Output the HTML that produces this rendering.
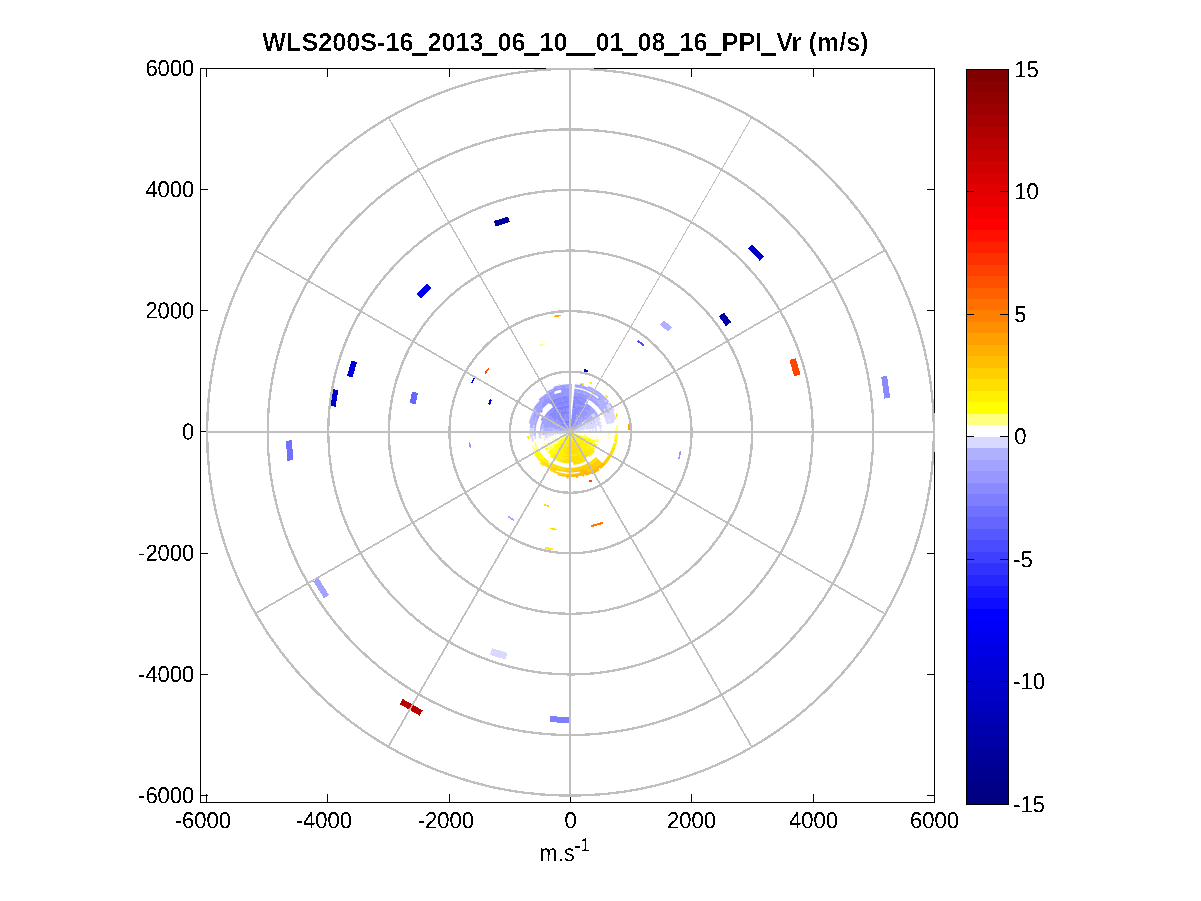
<!DOCTYPE html>
<html><head><meta charset="utf-8"><title>WLS200S PPI Vr</title>
<style>html,body{margin:0;padding:0;background:#fff;overflow:hidden}svg{display:block}</style>
</head><body>
<svg width="1201" height="901" viewBox="0 0 1201 901">
<defs><filter id="al" filterUnits="userSpaceOnUse" x="0" y="0" width="1201" height="901"><feComponentTransfer><feFuncA type="discrete" tableValues="0 0 1 1"/></feComponentTransfer></filter><filter id="al2" filterUnits="userSpaceOnUse" x="0" y="0" width="1201" height="901"><feComponentTransfer><feFuncA type="discrete" tableValues="0 0 0 0 0 0 0 1 1 1"/></feComponentTransfer></filter></defs>
<rect width="1201" height="901" fill="#fff"/>
<g stroke="#000" stroke-width="1" fill="none" shape-rendering="crispEdges">
<rect x="200.5" y="68.5" width="734.0" height="734.0"/>
<path d="M206.5 802.5v-8.5M206.5 68.5v8.5M327.5 802.5v-8.5M327.5 68.5v8.5M449.5 802.5v-8.5M449.5 68.5v8.5M570.5 802.5v-8.5M570.5 68.5v8.5M691.5 802.5v-8.5M691.5 68.5v8.5M813.5 802.5v-8.5M813.5 68.5v8.5M934.5 802.5v-8.5M934.5 68.5v8.5M200.5 795.5h7.5M934.5 795.5h-7.5M200.5 674.5h7.5M934.5 674.5h-7.5M200.5 553.5h7.5M934.5 553.5h-7.5M200.5 431.5h7.5M934.5 431.5h-7.5M200.5 310.5h7.5M934.5 310.5h-7.5M200.5 189.5h7.5M934.5 189.5h-7.5M200.5 68.5h7.5M934.5 68.5h-7.5"/>
</g>
<g fill="none" stroke-width="1.75">
<path stroke="#a3a3ff" d="M570.0 431.3A0.75 0.75 0 0 1 570.4 431.4M569.4 431.6A0.75 0.75 0 0 1 569.4 431.6M569.4 431.5A0.75 0.75 0 0 1 570.0 431.3M570.2 429.8A2.25 2.25 0 0 1 570.3 429.8M570.5 429.8A2.25 2.25 0 0 1 570.6 429.8M570.9 429.9A2.25 2.25 0 0 1 571.6 430.4M571.7 430.5A2.25 2.25 0 0 1 571.7 430.6M567.9 431.2A2.25 2.25 0 0 1 568.0 431.0M568.0 430.9A2.25 2.25 0 0 1 568.6 430.3M568.7 430.2A2.25 2.25 0 0 1 568.7 430.1M570.5 428.3A3.75 3.75 0 0 1 570.9 428.4M571.1 428.4A3.75 3.75 0 0 1 572.3 429.1M566.5 430.6A3.75 3.75 0 0 1 566.7 430.2M566.7 430.1A3.75 3.75 0 0 1 567.5 429.2M567.6 429.1A3.75 3.75 0 0 1 567.7 429.0M567.8 429.0A3.75 3.75 0 0 1 568.1 428.7M573.1 427.7A5.25 5.25 0 0 1 573.2 427.9M573.4 428.0A5.25 5.25 0 0 1 574.1 428.8M564.9 430.6A5.25 5.25 0 0 1 565.4 429.5M565.5 429.2A5.25 5.25 0 0 1 565.7 429.1M574.8 427.3A6.75 6.75 0 0 1 575.3 427.9M563.3 430.8A6.75 6.75 0 0 1 563.7 429.5M563.8 429.3A6.75 6.75 0 0 1 563.9 429.0M575.7 426.1A8.25 8.25 0 0 1 576.5 426.9M561.9 430.3A8.25 8.25 0 0 1 562.4 428.9M562.5 428.7A8.25 8.25 0 0 1 562.6 428.4M576.8 425.0A9.75 9.75 0 0 1 577.0 425.2M577.2 425.5A9.75 9.75 0 0 1 577.7 426.0M560.3 431.0A9.75 9.75 0 0 1 560.3 430.6M560.4 430.3A9.75 9.75 0 0 1 561.0 428.3M578.1 424.2A11.25 11.25 0 0 1 578.9 425.1M558.9 430.5A11.25 11.25 0 0 1 558.9 430.0M559.0 429.7A11.25 11.25 0 0 1 559.4 428.1M577.8 421.9A12.75 12.75 0 0 1 578.2 422.3M578.5 422.5A12.75 12.75 0 0 1 580.1 424.2M557.5 429.4A12.75 12.75 0 0 1 558.6 426.4M579.9 421.7A14.25 14.25 0 0 1 581.3 423.3M556.0 429.6A14.25 14.25 0 0 1 557.0 426.2M579.7 419.6A15.75 15.75 0 0 1 580.2 420.0M580.5 420.3A15.75 15.75 0 0 1 582.4 422.3M554.6 428.8A15.75 15.75 0 0 1 556.1 424.6M581.5 419.2A17.25 17.25 0 0 1 583.6 421.4M552.9 429.6A17.25 17.25 0 0 1 553.0 429.0M553.1 428.5A17.25 17.25 0 0 1 554.8 423.9M581.5 417.2A18.75 18.75 0 0 1 584.8 420.5M551.8 427.5A18.75 18.75 0 0 1 553.5 423.2M584.5 417.9A20.25 20.25 0 0 1 586.0 419.6M549.9 429.9A20.25 20.25 0 0 1 550.0 429.1M550.0 428.5A20.25 20.25 0 0 1 551.0 425.0M585.1 416.3A21.75 21.75 0 0 1 587.2 418.7M548.5 429.0A21.75 21.75 0 0 1 548.6 428.2M548.7 427.5A21.75 21.75 0 0 1 550.8 421.7M586.7 415.8A23.25 23.25 0 0 1 588.4 417.7M547.0 428.8A23.25 23.25 0 0 1 548.2 424.0M548.4 423.3A23.25 23.25 0 0 1 548.8 422.5M587.1 414.2A24.75 24.75 0 0 1 587.8 414.9M588.3 415.4A24.75 24.75 0 0 1 589.5 416.8M545.5 428.6A24.75 24.75 0 0 1 546.8 423.5M588.8 413.7A26.25 26.25 0 0 1 590.7 415.9M544.0 428.4A26.25 26.25 0 0 1 546.0 421.3M586.3 409.5A27.75 27.75 0 0 1 591.3 414.2M543.3 424.4A27.75 27.75 0 0 1 547.6 415.6M590.3 410.9A29.25 29.25 0 0 1 593.1 414.1M541.4 426.0A29.25 29.25 0 0 1 544.7 417.3M591.3 409.8A30.75 30.75 0 0 1 592.2 410.7M592.8 411.4A30.75 30.75 0 0 1 594.3 413.1M590.7 407.2A32.25 32.25 0 0 1 595.5 412.2M534.9 428.4A35.25 35.25 0 0 1 537.4 418.7M586.0 398.9A36.75 36.75 0 0 1 587.3 399.6M536.4 417.1A36.75 36.75 0 0 1 537.0 415.8M537.5 414.8A36.75 36.75 0 0 1 542.8 407.3M586.7 397.6A38.25 38.25 0 0 1 589.2 398.9M590.2 399.5A38.25 38.25 0 0 1 598.5 406.5M533.2 421.6A38.25 38.25 0 0 1 539.9 408.4M540.6 407.5A38.25 38.25 0 0 1 541.6 406.3M588.6 396.9A39.75 39.75 0 0 1 600.5 406.5M532.6 418.5A39.75 39.75 0 0 1 537.9 408.6M538.6 407.6A39.75 39.75 0 0 1 539.6 406.4M540.4 405.5A39.75 39.75 0 0 1 541.5 404.3M569.9 390.8A41.25 41.25 0 0 1 571.5 390.8M577.1 391.4A41.25 41.25 0 0 1 593.2 397.9M594.2 398.6A41.25 41.25 0 0 1 595.5 399.6M596.4 400.3A41.25 41.25 0 0 1 597.7 401.4M533.5 412.7A41.25 41.25 0 0 1 534.3 411.3M535.7 409.0A41.25 41.25 0 0 1 543.6 400.3M545.7 398.7A41.25 41.25 0 0 1 549.5 396.2M551.8 395.0A41.25 41.25 0 0 1 553.3 394.3M575.8 389.7A42.75 42.75 0 0 1 577.5 389.9M583.1 391.3A42.75 42.75 0 0 1 584.7 391.9M585.9 392.3A42.75 42.75 0 0 1 598.7 400.3M599.6 401.2A42.75 42.75 0 0 1 600.8 402.4M533.7 409.4A42.75 42.75 0 0 1 540.4 401.2M541.3 400.3A42.75 42.75 0 0 1 543.8 398.2M546.0 396.6A42.75 42.75 0 0 1 547.4 395.7M598.4 398.0A44.25 44.25 0 0 1 600.8 400.2M539.2 400.2A44.25 44.25 0 0 1 541.6 398.0M542.7 397.2A44.25 44.25 0 0 1 545.4 395.3M569.9 386.3A45.75 45.75 0 0 1 571.7 386.3M574.7 386.5A45.75 45.75 0 0 1 597.0 395.1M598.1 395.9A45.75 45.75 0 0 1 600.7 398.1M547.0 392.4A45.75 45.75 0 0 1 553.0 389.5M557.3 388.1A45.75 45.75 0 0 1 562.2 386.9M565.1 386.5A45.75 45.75 0 0 1 570.1 386.3M569.9 384.8A47.25 47.25 0 0 1 571.8 384.8M574.8 385.0A47.25 47.25 0 0 1 581.6 386.2M582.9 386.5A47.25 47.25 0 0 1 587.8 388.2M553.7 387.6A47.25 47.25 0 0 1 570.1 384.8M580.0 384.3A48.75 48.75 0 0 1 583.6 385.2M588.1 386.8A48.75 48.75 0 0 1 601.4 394.7"/>
<path stroke="#b0b0ff" d="M570.4 431.4A0.75 0.75 0 0 1 570.6 431.5M569.3 431.9A0.75 0.75 0 0 1 569.4 431.6M569.4 431.6A0.75 0.75 0 0 1 569.4 431.5M571.6 430.4A2.25 2.25 0 0 1 571.7 430.5M571.7 430.5A2.25 2.25 0 0 1 571.8 430.6M571.8 430.7A2.25 2.25 0 0 1 571.9 430.7M567.8 432.0A2.25 2.25 0 0 1 567.8 431.8M567.8 431.8A2.25 2.25 0 0 1 567.9 431.2M568.0 431.0A2.25 2.25 0 0 1 568.0 430.9M572.3 429.0A3.75 3.75 0 0 1 573.0 429.7M566.3 431.7A3.75 3.75 0 0 1 566.5 430.6M566.7 430.2A3.75 3.75 0 0 1 566.8 430.1M574.1 428.8A5.25 5.25 0 0 1 574.6 429.4M574.6 429.5A5.25 5.25 0 0 1 574.7 429.7M564.8 432.0A5.25 5.25 0 0 1 565.0 430.5M575.3 427.8A6.75 6.75 0 0 1 576.0 428.8M563.3 432.5A6.75 6.75 0 0 1 563.3 432.2M563.3 432.0A6.75 6.75 0 0 1 563.4 430.8M576.5 426.9A8.25 8.25 0 0 1 577.3 428.1M577.4 428.4A8.25 8.25 0 0 1 577.5 428.7M561.8 432.3A8.25 8.25 0 0 1 561.9 430.3M577.7 426.0A9.75 9.75 0 0 1 578.9 428.1M560.3 432.4A9.75 9.75 0 0 1 560.3 431.0M560.3 430.7A9.75 9.75 0 0 1 560.4 430.3M578.8 425.1A11.25 11.25 0 0 1 579.8 426.4M579.9 426.7A11.25 11.25 0 0 1 580.3 427.5M558.8 432.8A11.25 11.25 0 0 1 558.9 430.4M558.9 430.1A11.25 11.25 0 0 1 559.0 429.6M580.0 424.1A12.75 12.75 0 0 1 581.1 425.7M557.3 432.5A12.75 12.75 0 0 1 557.5 429.3M581.2 423.2A14.25 14.25 0 0 1 582.6 425.3M555.8 433.0A14.25 14.25 0 0 1 556.0 429.5M554.3 431.5A15.75 15.75 0 0 1 554.3 430.9M554.3 430.4A15.75 15.75 0 0 1 554.6 428.7M583.6 421.3A17.25 17.25 0 0 1 584.7 422.9M584.9 423.3A17.25 17.25 0 0 1 585.5 424.5M552.8 433.2A17.25 17.25 0 0 1 552.8 432.0M552.8 431.4A17.25 17.25 0 0 1 552.9 429.6M553.0 429.0A17.25 17.25 0 0 1 553.1 428.4M585.1 420.9A18.75 18.75 0 0 1 586.3 422.7M551.3 432.0A18.75 18.75 0 0 1 551.8 427.4M585.9 419.5A20.25 20.25 0 0 1 588.5 423.8M549.8 433.5A20.25 20.25 0 0 1 549.9 429.8M549.9 429.2A20.25 20.25 0 0 1 550.1 428.4M587.1 418.6A21.75 21.75 0 0 1 588.5 420.5M588.8 421.1A21.75 21.75 0 0 1 589.2 421.8M548.3 433.6A21.75 21.75 0 0 1 548.3 432.7M548.3 432.1A21.75 21.75 0 0 1 548.5 428.9M548.6 428.3A21.75 21.75 0 0 1 548.7 427.4M588.3 417.6A23.25 23.25 0 0 1 590.9 421.9M591.2 422.5A23.25 23.25 0 0 1 591.9 424.1M546.8 433.7A23.25 23.25 0 0 1 547.0 428.7M589.5 416.7A24.75 24.75 0 0 1 591.9 420.4M545.3 433.8A24.75 24.75 0 0 1 545.3 432.8M545.3 432.1A24.75 24.75 0 0 1 545.5 428.5M590.6 415.8A26.25 26.25 0 0 1 594.0 421.4M594.3 422.1A26.25 26.25 0 0 1 594.7 423.1M543.9 434.8A26.25 26.25 0 0 1 544.0 428.3M591.2 414.1A27.75 27.75 0 0 1 591.9 415.0M592.4 415.6A27.75 27.75 0 0 1 593.0 416.5M542.4 429.2A27.75 27.75 0 0 1 543.3 424.3M540.8 433.1A29.25 29.25 0 0 1 540.8 431.9M540.8 431.1A29.25 29.25 0 0 1 541.4 425.8M594.2 413.0A30.75 30.75 0 0 1 597.2 417.6M539.3 434.2A30.75 30.75 0 0 1 539.3 433.0M595.4 412.1A32.25 32.25 0 0 1 598.5 416.9M535.0 435.8A35.25 35.25 0 0 1 535.0 428.2M533.4 428.3A36.75 36.75 0 0 1 533.6 426.8M533.8 425.7A36.75 36.75 0 0 1 536.5 417.0M536.9 416.0A36.75 36.75 0 0 1 537.6 414.7M598.4 406.3A38.25 38.25 0 0 1 603.8 414.1M531.8 430.8A38.25 38.25 0 0 1 531.9 429.2M531.9 428.1A38.25 38.25 0 0 1 533.3 421.4M600.4 406.4A39.75 39.75 0 0 1 605.1 413.4M605.7 414.5A39.75 39.75 0 0 1 606.4 415.9M530.5 427.9A39.75 39.75 0 0 1 532.7 418.3M593.0 397.7A41.25 41.25 0 0 1 594.3 398.7M595.3 399.4A41.25 41.25 0 0 1 596.6 400.5M597.5 401.3A41.25 41.25 0 0 1 604.3 409.0M605.7 411.3A41.25 41.25 0 0 1 606.5 412.7M529.6 423.5A41.25 41.25 0 0 1 533.6 412.5M534.2 411.5A41.25 41.25 0 0 1 535.9 408.8M598.5 400.2A42.75 42.75 0 0 1 599.8 401.3M600.7 402.2A42.75 42.75 0 0 1 608.5 413.4M600.7 400.1A44.25 44.25 0 0 1 607.6 408.6M609.0 411.1A44.25 44.25 0 0 1 609.8 412.7M596.8 394.9A45.75 45.75 0 0 1 598.3 396.0M600.5 397.9A45.75 45.75 0 0 1 607.1 405.2M581.3 386.1A47.25 47.25 0 0 1 583.1 386.6M587.6 388.1A47.25 47.25 0 0 1 605.2 400.5M606.1 401.5A47.25 47.25 0 0 1 608.3 404.3M601.2 394.6A48.75 48.75 0 0 1 608.5 402.1M609.4 403.2A48.75 48.75 0 0 1 612.3 407.7"/>
<path stroke="#d9d9ff" d="M570.6 431.5A0.75 0.75 0 0 1 570.7 431.9M570.7 432.0A0.75 0.75 0 0 1 570.7 432.1M569.3 432.2A0.75 0.75 0 0 1 569.3 432.2M569.3 432.2A0.75 0.75 0 0 1 569.3 431.9M571.8 430.6A2.25 2.25 0 0 1 571.8 430.7M571.9 430.7A2.25 2.25 0 0 1 572.2 431.8M572.2 431.8A2.25 2.25 0 0 1 572.2 432.1M567.9 432.7A2.25 2.25 0 0 1 567.8 432.0M567.8 431.8A2.25 2.25 0 0 1 567.8 431.8M572.9 429.7A3.75 3.75 0 0 1 573.5 430.7M573.6 431.1A3.75 3.75 0 0 1 573.7 431.5M566.3 432.8A3.75 3.75 0 0 1 566.3 431.7M574.5 429.4A5.25 5.25 0 0 1 574.6 429.5M574.7 429.7A5.25 5.25 0 0 1 575.2 431.1M575.2 431.3A5.25 5.25 0 0 1 575.2 431.5M565.0 433.6A5.25 5.25 0 0 1 564.9 433.4M564.9 433.3A5.25 5.25 0 0 1 564.8 432.0M576.0 428.8A6.75 6.75 0 0 1 576.7 431.5M576.7 432.0A6.75 6.75 0 0 1 576.7 432.3M563.5 433.9A6.75 6.75 0 0 1 563.4 433.6M563.4 433.4A6.75 6.75 0 0 1 563.3 432.5M563.3 432.3A6.75 6.75 0 0 1 563.3 432.0M577.3 428.1A8.25 8.25 0 0 1 577.4 428.4M577.5 428.6A8.25 8.25 0 0 1 578.2 431.2M578.2 431.7A8.25 8.25 0 0 1 578.2 432.0M562.0 434.0A8.25 8.25 0 0 1 561.9 433.7M561.8 433.2A8.25 8.25 0 0 1 561.8 432.3M578.9 428.0A9.75 9.75 0 0 1 579.7 431.7M560.6 434.7A9.75 9.75 0 0 1 560.3 432.3M579.7 426.3A11.25 11.25 0 0 1 579.9 426.7M580.3 427.4A11.25 11.25 0 0 1 581.1 430.5M559.2 435.1A11.25 11.25 0 0 1 559.1 434.7M558.9 433.6A11.25 11.25 0 0 1 558.8 432.8M581.0 425.6A12.75 12.75 0 0 1 582.6 429.8M582.6 430.2A12.75 12.75 0 0 1 582.7 430.7M557.4 433.8A12.75 12.75 0 0 1 557.3 432.4M582.6 425.3A14.25 14.25 0 0 1 584.1 430.1M584.2 431.0A14.25 14.25 0 0 1 584.2 431.5M556.0 434.5A14.25 14.25 0 0 1 555.8 433.0M582.4 422.3A15.75 15.75 0 0 1 585.2 427.7M585.3 428.1A15.75 15.75 0 0 1 585.4 428.8M554.4 434.2A15.75 15.75 0 0 1 554.3 431.4M554.3 430.9A15.75 15.75 0 0 1 554.3 430.3M584.6 422.8A17.25 17.25 0 0 1 585.0 423.4M585.5 424.4A17.25 17.25 0 0 1 587.1 429.6M587.2 430.2A17.25 17.25 0 0 1 587.2 430.8M553.1 435.6A17.25 17.25 0 0 1 552.8 433.2M552.8 432.0A17.25 17.25 0 0 1 552.8 431.4M584.7 420.4A18.75 18.75 0 0 1 585.2 421.0M586.2 422.6A18.75 18.75 0 0 1 588.5 428.8M551.7 435.9A18.75 18.75 0 0 1 551.5 435.2M551.4 434.7A18.75 18.75 0 0 1 551.3 432.0M588.5 423.7A20.25 20.25 0 0 1 590.1 429.2M590.1 429.8A20.25 20.25 0 0 1 590.2 431.3M550.5 437.6A20.25 20.25 0 0 1 550.3 436.8M550.1 435.6A20.25 20.25 0 0 1 549.8 433.4M588.4 420.4A21.75 21.75 0 0 1 588.9 421.2M589.2 421.7A21.75 21.75 0 0 1 591.5 429.0M548.7 436.6A21.75 21.75 0 0 1 548.3 433.5M548.3 432.8A21.75 21.75 0 0 1 548.3 431.9M590.9 421.8A23.25 23.25 0 0 1 591.3 422.6M591.8 424.0A23.25 23.25 0 0 1 593.1 429.6M593.2 430.3A23.25 23.25 0 0 1 593.2 431.2M593.2 431.9A23.25 23.25 0 0 1 593.2 432.9M547.7 438.5A23.25 23.25 0 0 1 547.4 437.6M547.3 436.9A23.25 23.25 0 0 1 546.8 433.6M591.8 420.3A24.75 24.75 0 0 1 594.4 427.8M546.0 438.1A24.75 24.75 0 0 1 545.3 433.7M545.3 432.9A24.75 24.75 0 0 1 545.3 431.9M594.0 421.3A26.25 26.25 0 0 1 594.4 422.2M594.6 423.0A26.25 26.25 0 0 1 596.2 431.2M545.1 440.2A26.25 26.25 0 0 1 544.7 439.2M544.5 438.4A26.25 26.25 0 0 1 544.3 437.4M544.0 435.7A26.25 26.25 0 0 1 543.9 434.7M591.8 414.9A27.75 27.75 0 0 1 592.5 415.7M593.0 416.4A27.75 27.75 0 0 1 596.1 422.6M596.4 423.4A27.75 27.75 0 0 1 596.9 425.4M542.4 435.0A27.75 27.75 0 0 1 542.4 429.0M593.0 413.9A29.25 29.25 0 0 1 598.6 426.0M541.4 438.2A29.25 29.25 0 0 1 541.2 437.0M541.0 436.1A29.25 29.25 0 0 1 540.8 432.9M540.8 432.1A29.25 29.25 0 0 1 540.8 430.9M597.1 417.5A30.75 30.75 0 0 1 600.6 428.9M600.7 429.8A30.75 30.75 0 0 1 600.7 432.1M539.9 438.5A30.75 30.75 0 0 1 539.3 434.1M598.4 416.8A32.25 32.25 0 0 1 599.9 420.0M600.6 422.0A32.25 32.25 0 0 1 601.0 423.2M601.5 425.2A32.25 32.25 0 0 1 601.8 426.5M535.5 439.4A35.25 35.25 0 0 1 534.9 435.6M533.5 435.9A36.75 36.75 0 0 1 533.5 428.1M533.6 427.0A36.75 36.75 0 0 1 533.8 425.5M603.7 414.0A38.25 38.25 0 0 1 607.4 424.1M532.9 441.4A38.25 38.25 0 0 1 531.8 430.6M531.8 429.4A38.25 38.25 0 0 1 532.0 427.9M605.0 413.2A39.75 39.75 0 0 1 605.8 414.7M606.3 415.7A39.75 39.75 0 0 1 608.9 423.8M530.7 437.6A39.75 39.75 0 0 1 530.5 427.7M604.1 408.8A41.25 41.25 0 0 1 605.8 411.5M606.4 412.5A41.25 41.25 0 0 1 609.3 419.4M609.6 420.5A41.25 41.25 0 0 1 610.4 423.5M608.4 413.2A42.75 42.75 0 0 1 611.8 423.2M607.5 408.5A44.25 44.25 0 0 1 609.1 411.3M609.7 412.5A44.25 44.25 0 0 1 613.3 422.9M606.9 405.0A45.75 45.75 0 0 1 614.4 421.0M605.0 400.3A47.25 47.25 0 0 1 606.3 401.7M608.2 404.1A47.25 47.25 0 0 1 615.5 419.1M612.2 407.5A48.75 48.75 0 0 1 613.9 410.7"/>
<path stroke="#ffff80" d="M570.7 432.3A0.75 0.75 0 0 1 570.5 432.6M570.5 432.6A0.75 0.75 0 0 1 570.4 432.6M570.3 432.7A0.75 0.75 0 0 1 570.3 432.7M570.2 432.7A0.75 0.75 0 0 1 570.1 432.7M569.9 432.7A0.75 0.75 0 0 1 569.9 432.7M569.9 432.7A0.75 0.75 0 0 1 569.8 432.7M569.8 432.7A0.75 0.75 0 0 1 569.7 432.7M569.7 432.7A0.75 0.75 0 0 1 569.4 432.5M572.1 432.7A2.25 2.25 0 0 1 571.7 433.5M571.6 433.6A2.25 2.25 0 0 1 571.4 433.7M569.3 434.1A2.25 2.25 0 0 1 569.1 434.1M569.0 434.0A2.25 2.25 0 0 1 568.3 433.5M568.3 433.5A2.25 2.25 0 0 1 568.2 433.4M573.6 433.1A3.75 3.75 0 0 1 573.2 434.0M567.8 435.0A3.75 3.75 0 0 1 566.7 433.9M575.0 433.6A5.25 5.25 0 0 1 574.9 434.0M574.8 434.1A5.25 5.25 0 0 1 574.7 434.3M566.4 435.8A5.25 5.25 0 0 1 565.4 434.6M576.4 434.1A6.75 6.75 0 0 1 576.3 434.3M565.3 436.9A6.75 6.75 0 0 1 565.1 436.7M565.0 436.5A6.75 6.75 0 0 1 564.1 435.4M564.0 435.2A6.75 6.75 0 0 1 563.9 434.9M577.7 435.1A8.25 8.25 0 0 1 577.5 435.4M564.1 437.7A8.25 8.25 0 0 1 563.9 437.5M563.7 437.3A8.25 8.25 0 0 1 563.5 437.1M563.2 436.6A8.25 8.25 0 0 1 562.8 436.1M562.7 435.9A8.25 8.25 0 0 1 562.6 435.6M579.2 435.3A9.75 9.75 0 0 1 579.0 435.7M563.0 438.8A9.75 9.75 0 0 1 562.7 438.5M562.1 437.8A9.75 9.75 0 0 1 561.9 437.4M561.6 436.9A9.75 9.75 0 0 1 561.4 436.6M581.0 434.3A11.25 11.25 0 0 1 580.9 434.8M580.7 435.4A11.25 11.25 0 0 1 580.6 435.9M560.7 438.3A11.25 11.25 0 0 1 560.2 437.6M560.1 437.3A11.25 11.25 0 0 1 559.9 436.9M582.0 436.3A12.75 12.75 0 0 1 581.8 436.8M560.0 439.9A12.75 12.75 0 0 1 559.7 439.5M559.4 439.2A12.75 12.75 0 0 1 558.7 438.0M583.9 434.9A14.25 14.25 0 0 1 583.8 435.5M559.1 441.2A14.25 14.25 0 0 1 558.4 440.3M558.2 440.0A14.25 14.25 0 0 1 557.6 439.1M585.6 434.2A15.75 15.75 0 0 1 585.0 436.9M556.7 440.4A15.75 15.75 0 0 1 556.1 439.4M555.6 438.4A15.75 15.75 0 0 1 555.0 436.8M586.7 436.1A17.25 17.25 0 0 1 586.4 437.4M556.4 442.7A17.25 17.25 0 0 1 555.3 441.1M588.2 436.5A18.75 18.75 0 0 1 587.8 437.8M555.7 444.1A18.75 18.75 0 0 1 554.8 443.0M554.1 442.0A18.75 18.75 0 0 1 553.7 441.3M553.5 440.8A18.75 18.75 0 0 1 553.1 440.2M552.9 439.7A18.75 18.75 0 0 1 552.6 439.0M589.5 437.5A20.25 20.25 0 0 1 589.0 439.0M552.9 442.8A20.25 20.25 0 0 1 552.4 442.1M591.4 435.7A21.75 21.75 0 0 1 591.3 436.6M590.9 437.9A21.75 21.75 0 0 1 590.7 438.8M552.9 445.4A21.75 21.75 0 0 1 551.5 443.5M551.2 442.9A21.75 21.75 0 0 1 550.4 441.5M550.2 440.9A21.75 21.75 0 0 1 549.8 440.1M592.1 439.1A23.25 23.25 0 0 1 591.2 441.5M554.5 449.3A23.25 23.25 0 0 1 553.8 448.7M553.3 448.2A23.25 23.25 0 0 1 552.7 447.5M552.2 447.0A23.25 23.25 0 0 1 550.7 445.0M550.5 447.3A24.75 24.75 0 0 1 547.7 442.8M594.7 440.9A26.25 26.25 0 0 1 594.0 442.7M550.5 449.6A26.25 26.25 0 0 1 548.7 447.4M548.3 446.7A26.25 26.25 0 0 1 546.8 444.3M597.3 436.7A27.75 27.75 0 0 1 597.1 437.8M596.9 438.6A27.75 27.75 0 0 1 596.4 440.6M547.6 448.4A27.75 27.75 0 0 1 547.0 447.5M546.0 445.9A27.75 27.75 0 0 1 544.6 443.2M598.4 439.0A29.25 29.25 0 0 1 597.8 441.1M545.8 448.4A29.25 29.25 0 0 1 544.6 446.6M543.7 444.9A29.25 29.25 0 0 1 543.2 443.8M544.0 448.4A30.75 30.75 0 0 1 543.3 447.3M538.9 451.6A36.75 36.75 0 0 1 534.6 442.0M608.2 434.6A38.25 38.25 0 0 1 608.0 436.1M536.9 451.2A38.25 38.25 0 0 1 535.0 447.5M609.7 431.9A39.75 39.75 0 0 1 609.6 434.9M609.4 437.4A39.75 39.75 0 0 1 609.1 439.0M535.6 452.0A39.75 39.75 0 0 1 532.6 445.5M615.6 428.7A45.75 45.75 0 0 1 615.6 435.3M616.8 425.3A47.25 47.25 0 0 1 617.2 433.8"/>
<path stroke="#ffff00" d="M570.5 432.6A0.75 0.75 0 0 1 570.5 432.6M570.4 432.6A0.75 0.75 0 0 1 570.3 432.7M570.3 432.7A0.75 0.75 0 0 1 570.2 432.7M570.1 432.7A0.75 0.75 0 0 1 569.9 432.7M569.9 432.7A0.75 0.75 0 0 1 569.9 432.7M569.8 432.7A0.75 0.75 0 0 1 569.8 432.7M569.7 432.7A0.75 0.75 0 0 1 569.7 432.7M571.7 433.4A2.25 2.25 0 0 1 571.6 433.6M571.5 433.7A2.25 2.25 0 0 1 569.3 434.1M569.1 434.1A2.25 2.25 0 0 1 569.0 434.0M573.2 434.0A3.75 3.75 0 0 1 572.4 434.9M572.3 434.9A3.75 3.75 0 0 1 572.1 435.1M571.8 435.3A3.75 3.75 0 0 1 571.3 435.5M570.5 435.7A3.75 3.75 0 0 1 570.4 435.7M570.1 435.7A3.75 3.75 0 0 1 570.0 435.7M569.7 435.7A3.75 3.75 0 0 1 567.8 435.0M574.9 434.0A5.25 5.25 0 0 1 574.8 434.1M574.7 434.3A5.25 5.25 0 0 1 573.2 436.1M568.4 437.0A5.25 5.25 0 0 1 568.2 436.9M567.9 436.8A5.25 5.25 0 0 1 566.3 435.8M576.3 434.3A6.75 6.75 0 0 1 575.0 436.5M566.8 438.0A6.75 6.75 0 0 1 565.3 436.8M565.2 436.7A6.75 6.75 0 0 1 565.0 436.5M577.9 434.5A8.25 8.25 0 0 1 577.6 435.1M577.5 435.3A8.25 8.25 0 0 1 576.8 436.6M576.7 436.8A8.25 8.25 0 0 1 576.5 437.1M565.9 439.2A8.25 8.25 0 0 1 565.6 439.0M565.4 438.9A8.25 8.25 0 0 1 564.1 437.7M579.3 435.0A9.75 9.75 0 0 1 579.2 435.4M579.0 435.6A9.75 9.75 0 0 1 578.1 437.5M565.1 440.5A9.75 9.75 0 0 1 564.8 440.3M564.6 440.1A9.75 9.75 0 0 1 563.0 438.8M562.8 438.5A9.75 9.75 0 0 1 562.3 438.0M580.6 435.8A11.25 11.25 0 0 1 579.9 437.3M579.8 437.6A11.25 11.25 0 0 1 579.5 438.0M563.7 441.3A11.25 11.25 0 0 1 563.4 441.1M563.1 440.9A11.25 11.25 0 0 1 561.4 439.2M582.1 435.9A12.75 12.75 0 0 1 582.0 436.4M581.8 436.7A12.75 12.75 0 0 1 580.6 439.2M563.3 442.8A12.75 12.75 0 0 1 559.9 439.8M583.6 436.4A14.25 14.25 0 0 1 581.8 440.0M562.1 443.8A14.25 14.25 0 0 1 559.1 441.1M585.0 436.8A15.75 15.75 0 0 1 584.1 438.9M559.9 444.1A15.75 15.75 0 0 1 559.4 443.7M559.1 443.4A15.75 15.75 0 0 1 558.3 442.5M557.6 441.7A15.75 15.75 0 0 1 556.9 440.8M586.4 437.3A17.25 17.25 0 0 1 584.6 441.2M584.3 441.6A17.25 17.25 0 0 1 583.9 442.2M559.9 446.0A17.25 17.25 0 0 1 557.2 443.5M587.8 437.7A18.75 18.75 0 0 1 585.9 442.0M585.6 442.4A18.75 18.75 0 0 1 585.1 443.1M559.0 447.2A18.75 18.75 0 0 1 555.6 444.0M589.0 438.9A20.25 20.25 0 0 1 587.1 442.8M559.3 449.2A20.25 20.25 0 0 1 558.6 448.8M558.1 448.4A20.25 20.25 0 0 1 554.9 445.5M554.5 445.1A20.25 20.25 0 0 1 553.6 443.9M590.7 438.7A21.75 21.75 0 0 1 588.8 442.9M556.7 449.2A21.75 21.75 0 0 1 553.8 446.5M591.3 441.4A23.25 23.25 0 0 1 588.3 446.4M587.8 446.9A23.25 23.25 0 0 1 586.7 448.2M559.9 452.9A23.25 23.25 0 0 1 559.0 452.5M558.4 452.2A23.25 23.25 0 0 1 554.4 449.2M553.9 448.8A23.25 23.25 0 0 1 553.2 448.1M593.6 439.6A24.75 24.75 0 0 1 591.8 443.7M591.5 444.3A24.75 24.75 0 0 1 591.0 445.2M556.2 452.6A24.75 24.75 0 0 1 554.7 451.5M554.1 451.0A24.75 24.75 0 0 1 551.6 448.5M551.1 448.0A24.75 24.75 0 0 1 550.5 447.2M595.0 440.0A26.25 26.25 0 0 1 594.6 441.0M594.0 442.6A26.25 26.25 0 0 1 591.7 446.7M591.3 447.4A26.25 26.25 0 0 1 590.6 448.2M556.1 454.3A26.25 26.25 0 0 1 550.4 449.5M596.4 440.5A27.75 27.75 0 0 1 596.1 441.6M595.4 443.2A27.75 27.75 0 0 1 594.9 444.2M594.1 445.8A27.75 27.75 0 0 1 593.5 446.8M553.0 453.9A27.75 27.75 0 0 1 549.3 450.5M548.2 449.1A27.75 27.75 0 0 1 547.5 448.3M597.8 441.0A29.25 29.25 0 0 1 597.5 442.1M596.8 443.8A29.25 29.25 0 0 1 595.3 446.7M552.9 455.7A29.25 29.25 0 0 1 548.2 451.5M547.0 450.1A29.25 29.25 0 0 1 545.7 448.3M552.0 456.9A30.75 30.75 0 0 1 550.2 455.5M543.6 457.6A36.75 36.75 0 0 1 538.8 451.4M543.5 459.6A38.25 38.25 0 0 1 536.8 451.0M540.5 458.7A39.75 39.75 0 0 1 535.5 451.8M536.7 456.3A41.25 41.25 0 0 1 533.5 451.3M615.6 435.1A45.75 45.75 0 0 1 615.0 440.1M617.2 433.5A47.25 47.25 0 0 1 616.5 440.3"/>
<path stroke="#9797ff" d="M570.0 429.8A2.25 2.25 0 0 1 570.2 429.8M570.3 429.8A2.25 2.25 0 0 1 570.5 429.8M570.6 429.8A2.25 2.25 0 0 1 570.9 429.9M568.5 430.3A2.25 2.25 0 0 1 568.7 430.2M568.7 430.1A2.25 2.25 0 0 1 570.0 429.8M570.0 428.3A3.75 3.75 0 0 1 570.5 428.3M570.9 428.4A3.75 3.75 0 0 1 571.2 428.4M567.5 429.2A3.75 3.75 0 0 1 567.6 429.1M567.7 429.1A3.75 3.75 0 0 1 567.8 429.0M568.1 428.8A3.75 3.75 0 0 1 570.0 428.3M570.7 426.8A5.25 5.25 0 0 1 570.9 426.8M571.1 426.9A5.25 5.25 0 0 1 573.1 427.8M573.2 427.9A5.25 5.25 0 0 1 573.4 428.0M565.4 429.5A5.25 5.25 0 0 1 565.6 429.2M565.6 429.1A5.25 5.25 0 0 1 566.8 427.9M567.4 427.5A5.25 5.25 0 0 1 567.5 427.4M572.7 425.8A6.75 6.75 0 0 1 573.0 425.9M573.4 426.1A6.75 6.75 0 0 1 574.9 427.3M563.7 429.5A6.75 6.75 0 0 1 563.8 429.2M563.9 429.1A6.75 6.75 0 0 1 564.7 427.8M565.0 427.5A6.75 6.75 0 0 1 565.2 427.3M573.6 424.6A8.25 8.25 0 0 1 575.7 426.1M562.3 428.9A8.25 8.25 0 0 1 562.5 428.6M562.6 428.4A8.25 8.25 0 0 1 563.5 426.9M574.9 423.5A9.75 9.75 0 0 1 575.2 423.7M575.4 423.9A9.75 9.75 0 0 1 576.8 425.0M577.0 425.2A9.75 9.75 0 0 1 577.3 425.5M561.0 428.4A9.75 9.75 0 0 1 562.3 426.0M575.6 422.2A11.25 11.25 0 0 1 578.1 424.2M559.4 428.2A11.25 11.25 0 0 1 560.5 426.0M560.9 425.4A11.25 11.25 0 0 1 561.2 425.1M574.7 420.2A12.75 12.75 0 0 1 575.2 420.4M575.6 420.5A12.75 12.75 0 0 1 577.9 422.0M578.2 422.2A12.75 12.75 0 0 1 578.6 422.5M558.5 426.4A12.75 12.75 0 0 1 560.0 424.1M560.2 423.8A12.75 12.75 0 0 1 560.9 423.1M575.8 419.0A14.25 14.25 0 0 1 576.3 419.2M576.7 419.4A14.25 14.25 0 0 1 577.2 419.7M577.5 419.9A14.25 14.25 0 0 1 579.9 421.8M557.0 426.2A14.25 14.25 0 0 1 559.8 422.1M576.4 417.6A15.75 15.75 0 0 1 576.9 417.9M577.4 418.1A15.75 15.75 0 0 1 579.7 419.6M580.1 419.9A15.75 15.75 0 0 1 580.6 420.3M556.1 424.6A15.75 15.75 0 0 1 558.7 421.0M576.4 416.0A17.25 17.25 0 0 1 577.1 416.3M578.1 416.7A17.25 17.25 0 0 1 581.6 419.2M554.7 423.9A17.25 17.25 0 0 1 556.4 421.3M556.8 420.9A17.25 17.25 0 0 1 557.2 420.4M576.4 414.4A18.75 18.75 0 0 1 577.7 414.9M578.2 415.1A18.75 18.75 0 0 1 581.6 417.3M553.4 423.2A18.75 18.75 0 0 1 556.1 419.4M556.5 419.0A18.75 18.75 0 0 1 557.0 418.5M580.1 414.4A20.25 20.25 0 0 1 584.6 418.0M551.0 425.1A20.25 20.25 0 0 1 552.9 421.2M553.2 420.7A20.25 20.25 0 0 1 553.6 420.1M578.8 412.1A21.75 21.75 0 0 1 585.1 416.4M550.8 421.8A21.75 21.75 0 0 1 552.4 419.2M552.8 418.7A21.75 21.75 0 0 1 553.4 418.0M580.1 411.1A23.25 23.25 0 0 1 586.8 415.9M548.1 424.1A23.25 23.25 0 0 1 548.5 423.2M548.7 422.6A23.25 23.25 0 0 1 551.2 418.3M581.6 410.1A24.75 24.75 0 0 1 587.2 414.2M587.8 414.8A24.75 24.75 0 0 1 588.4 415.5M546.7 423.6A24.75 24.75 0 0 1 551.1 416.0M583.9 409.7A26.25 26.25 0 0 1 588.9 413.8M546.0 421.4A26.25 26.25 0 0 1 547.8 418.0M548.2 417.4A26.25 26.25 0 0 1 548.8 416.5M575.7 404.8A27.75 27.75 0 0 1 586.4 409.6M547.5 415.7A27.75 27.75 0 0 1 553.7 409.5M554.4 409.0A27.75 27.75 0 0 1 555.4 408.4M581.8 405.2A29.25 29.25 0 0 1 590.4 411.0M544.6 417.4A29.25 29.25 0 0 1 548.3 412.4M586.2 405.9A30.75 30.75 0 0 1 591.4 409.9M592.1 410.6A30.75 30.75 0 0 1 592.9 411.5M541.5 420.6A30.75 30.75 0 0 1 542.9 417.5M582.0 402.1A32.25 32.25 0 0 1 583.2 402.6M584.1 403.0A32.25 32.25 0 0 1 585.2 403.6M586.1 404.0A32.25 32.25 0 0 1 590.8 407.3M578.1 399.2A33.75 33.75 0 0 1 579.4 399.6M580.3 399.9A33.75 33.75 0 0 1 585.9 402.2M537.3 418.9A35.25 35.25 0 0 1 539.5 414.3M569.9 395.3A36.75 36.75 0 0 1 571.4 395.3M573.7 395.4A36.75 36.75 0 0 1 586.2 399.0M542.6 407.5A36.75 36.75 0 0 1 570.1 395.3M569.9 393.8A38.25 38.25 0 0 1 571.4 393.8M573.9 393.9A38.25 38.25 0 0 1 586.9 397.7M589.0 398.8A38.25 38.25 0 0 1 590.4 399.6M539.8 408.5A38.25 38.25 0 0 1 540.8 407.3M541.5 406.5A38.25 38.25 0 0 1 557.0 396.0M558.1 395.7A38.25 38.25 0 0 1 570.1 393.8M574.1 392.5A39.75 39.75 0 0 1 588.8 397.0M537.8 408.7A39.75 39.75 0 0 1 538.7 407.4M539.5 406.5A39.75 39.75 0 0 1 540.5 405.3M541.3 404.5A39.75 39.75 0 0 1 557.8 394.2M558.9 393.8A39.75 39.75 0 0 1 561.8 393.1M563.0 392.9A39.75 39.75 0 0 1 564.6 392.6M565.7 392.5A39.75 39.75 0 0 1 570.1 392.3M574.2 391.0A41.25 41.25 0 0 1 577.3 391.4M543.4 400.5A41.25 41.25 0 0 1 545.8 398.6M549.3 396.3A41.25 41.25 0 0 1 552.0 394.9M553.1 394.4A41.25 41.25 0 0 1 554.6 393.7M561.3 391.7A41.25 41.25 0 0 1 570.1 390.8M569.9 389.3A42.75 42.75 0 0 1 571.6 389.3M574.4 389.5A42.75 42.75 0 0 1 576.1 389.7M577.3 389.9A42.75 42.75 0 0 1 583.3 391.4M584.5 391.8A42.75 42.75 0 0 1 586.1 392.4M540.2 401.3A42.75 42.75 0 0 1 541.5 400.2M543.6 398.4A42.75 42.75 0 0 1 546.2 396.5M547.3 395.8A42.75 42.75 0 0 1 554.1 392.3M561.0 390.2A42.75 42.75 0 0 1 570.1 389.3M569.9 387.8A44.25 44.25 0 0 1 571.7 387.8M541.5 398.2A44.25 44.25 0 0 1 542.8 397.1M545.2 395.4A44.25 44.25 0 0 1 570.1 387.8M552.8 389.6A45.75 45.75 0 0 1 557.5 388.0M561.9 387.0A45.75 45.75 0 0 1 565.3 386.5"/>
<path stroke="#ffef00" d="M572.4 434.9A3.75 3.75 0 0 1 572.3 435.0M572.1 435.1A3.75 3.75 0 0 1 571.8 435.3M571.3 435.5A3.75 3.75 0 0 1 570.5 435.7M570.4 435.7A3.75 3.75 0 0 1 570.1 435.7M570.0 435.7A3.75 3.75 0 0 1 569.7 435.7M573.2 436.1A5.25 5.25 0 0 1 568.4 437.0M568.2 436.9A5.25 5.25 0 0 1 567.9 436.8M575.0 436.5A6.75 6.75 0 0 1 572.1 438.4M571.9 438.5A6.75 6.75 0 0 1 571.4 438.6M570.5 438.7A6.75 6.75 0 0 1 569.7 438.7M569.5 438.7A6.75 6.75 0 0 1 566.8 438.0M576.9 436.6A8.25 8.25 0 0 1 576.7 436.9M576.5 437.1A8.25 8.25 0 0 1 573.1 439.7M572.8 439.7A8.25 8.25 0 0 1 572.0 440.0M571.2 440.2A8.25 8.25 0 0 1 570.8 440.2M570.6 440.2A8.25 8.25 0 0 1 569.7 440.2M569.2 440.2A8.25 8.25 0 0 1 565.9 439.1M565.6 439.0A8.25 8.25 0 0 1 565.4 438.8M578.1 437.4A9.75 9.75 0 0 1 575.1 440.3M574.6 440.6A9.75 9.75 0 0 1 574.3 440.8M574.0 440.9A9.75 9.75 0 0 1 573.3 441.2M572.1 441.5A9.75 9.75 0 0 1 571.7 441.6M569.7 441.7A9.75 9.75 0 0 1 569.3 441.7M569.0 441.7A9.75 9.75 0 0 1 565.1 440.4M564.9 440.3A9.75 9.75 0 0 1 564.5 440.1M579.9 437.3A11.25 11.25 0 0 1 579.7 437.7M579.6 437.9A11.25 11.25 0 0 1 577.2 440.6M566.9 442.8A11.25 11.25 0 0 1 563.7 441.3M563.4 441.1A11.25 11.25 0 0 1 563.1 440.8M580.6 439.1A12.75 12.75 0 0 1 576.3 443.1M575.6 443.4A12.75 12.75 0 0 1 575.2 443.7M569.6 444.7A12.75 12.75 0 0 1 568.6 444.7M566.9 444.4A12.75 12.75 0 0 1 563.2 442.8M581.8 439.9A14.25 14.25 0 0 1 577.9 443.8M567.6 446.0A14.25 14.25 0 0 1 562.0 443.8M584.2 438.9A15.75 15.75 0 0 1 582.4 441.7M582.1 442.1A15.75 15.75 0 0 1 581.7 442.6M563.6 446.4A15.75 15.75 0 0 1 562.6 445.9M562.2 445.7A15.75 15.75 0 0 1 559.8 444.0M559.5 443.7A15.75 15.75 0 0 1 559.0 443.3M584.7 441.1A17.25 17.25 0 0 1 584.3 441.7M584.0 442.1A17.25 17.25 0 0 1 580.6 445.6M578.7 446.9A17.25 17.25 0 0 1 578.1 447.3M565.3 448.6A17.25 17.25 0 0 1 559.8 445.9M585.9 441.9A18.75 18.75 0 0 1 585.5 442.5M585.2 443.0A18.75 18.75 0 0 1 581.5 446.8M580.5 447.5A18.75 18.75 0 0 1 579.9 447.9M567.4 450.6A18.75 18.75 0 0 1 566.7 450.5M566.1 450.4A18.75 18.75 0 0 1 565.4 450.2M564.9 450.0A18.75 18.75 0 0 1 558.9 447.1M587.2 442.7A20.25 20.25 0 0 1 581.9 448.4M563.8 451.3A20.25 20.25 0 0 1 559.2 449.1M558.7 448.8A20.25 20.25 0 0 1 558.1 448.4M588.9 442.8A21.75 21.75 0 0 1 583.9 448.7M583.4 449.1A21.75 21.75 0 0 1 582.7 449.6M565.5 453.3A21.75 21.75 0 0 1 556.6 449.1M588.4 446.3A23.25 23.25 0 0 1 587.8 447.0M586.8 448.1A23.25 23.25 0 0 1 580.1 452.9M579.5 453.2A23.25 23.25 0 0 1 578.7 453.6M576.5 454.3A23.25 23.25 0 0 1 574.0 454.9M573.3 455.0A23.25 23.25 0 0 1 572.4 455.1M571.7 455.2A23.25 23.25 0 0 1 569.9 455.2M569.2 455.2A23.25 23.25 0 0 1 559.8 452.9M559.1 452.6A23.25 23.25 0 0 1 558.3 452.1M591.9 443.6A24.75 24.75 0 0 1 591.4 444.4M591.0 445.1A24.75 24.75 0 0 1 585.9 451.0M563.2 455.8A24.75 24.75 0 0 1 561.5 455.2M560.8 455.0A24.75 24.75 0 0 1 556.1 452.5M554.8 451.5A24.75 24.75 0 0 1 554.0 450.9M591.8 446.6A26.25 26.25 0 0 1 591.2 447.5M590.7 448.1A26.25 26.25 0 0 1 585.4 453.3M584.7 453.7A26.25 26.25 0 0 1 583.9 454.3M580.7 456.0A26.25 26.25 0 0 1 579.8 456.4M570.1 458.2A26.25 26.25 0 0 1 569.0 458.2M568.2 458.2A26.25 26.25 0 0 1 566.3 458.0M565.5 457.9A26.25 26.25 0 0 1 556.0 454.2M595.0 444.1A27.75 27.75 0 0 1 594.0 445.9M593.0 447.5A27.75 27.75 0 0 1 589.9 451.3M589.3 451.9A27.75 27.75 0 0 1 588.5 452.7M564.3 459.2A27.75 27.75 0 0 1 562.3 458.7M561.5 458.4A27.75 27.75 0 0 1 552.9 453.8M594.3 448.3A29.25 29.25 0 0 1 589.5 453.8M588.9 454.4A29.25 29.25 0 0 1 587.9 455.1M563.0 460.4A29.25 29.25 0 0 1 561.9 460.1M561.0 459.8A29.25 29.25 0 0 1 559.0 459.1M558.2 458.8A29.25 29.25 0 0 1 552.7 455.6M594.3 450.9A30.75 30.75 0 0 1 591.3 454.2M590.6 454.8A30.75 30.75 0 0 1 588.9 456.3M561.6 461.6A30.75 30.75 0 0 1 560.4 461.2M559.6 460.9A30.75 30.75 0 0 1 551.9 456.8M548.5 461.8A36.75 36.75 0 0 1 543.5 457.5M549.8 464.5A38.25 38.25 0 0 1 543.4 459.4M544.5 462.5A39.75 39.75 0 0 1 540.4 458.5M541.4 461.7A41.25 41.25 0 0 1 536.6 456.2M543.8 465.8A42.75 42.75 0 0 1 540.2 462.7M615.1 439.8A45.75 45.75 0 0 1 614.7 441.6M614.4 443.0A45.75 45.75 0 0 1 612.9 447.8M616.6 440.1A47.25 47.25 0 0 1 614.4 448.3"/>
<path stroke="#8a8aff" d="M570.0 426.8A5.25 5.25 0 0 1 570.7 426.8M570.9 426.8A5.25 5.25 0 0 1 571.1 426.9M566.8 427.9A5.25 5.25 0 0 1 567.4 427.4M567.5 427.4A5.25 5.25 0 0 1 570.0 426.8M570.0 425.3A6.75 6.75 0 0 1 572.8 425.8M572.9 425.9A6.75 6.75 0 0 1 573.4 426.2M564.7 427.9A6.75 6.75 0 0 1 565.0 427.5M565.1 427.3A6.75 6.75 0 0 1 567.1 425.9M567.2 425.8A6.75 6.75 0 0 1 567.5 425.7M567.7 425.7A6.75 6.75 0 0 1 568.2 425.5M568.3 425.5A6.75 6.75 0 0 1 568.6 425.4M569.0 425.3A6.75 6.75 0 0 1 570.0 425.3M570.3 423.8A8.25 8.25 0 0 1 573.6 424.6M563.5 426.9A8.25 8.25 0 0 1 568.0 424.0M568.3 423.9A8.25 8.25 0 0 1 568.9 423.8M569.1 423.8A8.25 8.25 0 0 1 570.0 423.8M571.0 422.3A9.75 9.75 0 0 1 571.4 422.3M571.7 422.4A9.75 9.75 0 0 1 572.4 422.5M572.7 422.6A9.75 9.75 0 0 1 574.9 423.6M575.1 423.7A9.75 9.75 0 0 1 575.5 423.9M562.3 426.0A9.75 9.75 0 0 1 564.3 424.1M564.5 423.9A9.75 9.75 0 0 1 565.4 423.4M572.7 421.1A11.25 11.25 0 0 1 575.7 422.3M560.4 426.1A11.25 11.25 0 0 1 560.9 425.4M561.1 425.1A11.25 11.25 0 0 1 563.1 423.1M563.7 422.7A11.25 11.25 0 0 1 564.1 422.4M570.0 419.3A12.75 12.75 0 0 1 570.5 419.3M571.3 419.3A12.75 12.75 0 0 1 574.8 420.2M575.2 420.3A12.75 12.75 0 0 1 575.6 420.6M559.9 424.2A12.75 12.75 0 0 1 560.3 423.8M560.8 423.2A12.75 12.75 0 0 1 564.8 420.3M565.2 420.2A12.75 12.75 0 0 1 566.5 419.7M567.3 419.5A12.75 12.75 0 0 1 568.3 419.4M568.6 419.3A12.75 12.75 0 0 1 570.0 419.3M570.0 417.8A14.25 14.25 0 0 1 570.5 417.8M571.5 417.8A14.25 14.25 0 0 1 575.8 419.0M576.2 419.2A14.25 14.25 0 0 1 576.7 419.4M577.1 419.6A14.25 14.25 0 0 1 577.6 419.9M559.7 422.1A14.25 14.25 0 0 1 564.2 419.0M564.6 418.8A14.25 14.25 0 0 1 565.2 418.6M565.6 418.5A14.25 14.25 0 0 1 566.1 418.3M566.5 418.2A14.25 14.25 0 0 1 567.1 418.1M567.5 418.0A14.25 14.25 0 0 1 568.1 417.9M570.0 416.3A15.75 15.75 0 0 1 570.6 416.3M571.6 416.3A15.75 15.75 0 0 1 576.4 417.6M576.9 417.8A15.75 15.75 0 0 1 577.4 418.1M558.6 421.1A15.75 15.75 0 0 1 564.1 417.4M564.6 417.2A15.75 15.75 0 0 1 565.7 416.8M567.8 416.4A15.75 15.75 0 0 1 568.9 416.3M569.4 416.3A15.75 15.75 0 0 1 570.0 416.3M570.0 414.8A17.25 17.25 0 0 1 570.6 414.8M571.8 414.8A17.25 17.25 0 0 1 576.5 416.0M577.0 416.2A17.25 17.25 0 0 1 578.1 416.8M556.4 421.4A17.25 17.25 0 0 1 556.8 420.9M557.2 420.5A17.25 17.25 0 0 1 565.3 415.4M566.4 415.1A17.25 17.25 0 0 1 568.2 414.8M568.8 414.8A17.25 17.25 0 0 1 569.4 414.8M570.0 413.3A18.75 18.75 0 0 1 570.7 413.3M571.9 413.3A18.75 18.75 0 0 1 576.5 414.4M577.6 414.9A18.75 18.75 0 0 1 578.3 415.2M556.0 419.5A18.75 18.75 0 0 1 556.5 418.9M556.9 418.5A18.75 18.75 0 0 1 570.0 413.3M573.5 412.0A20.25 20.25 0 0 1 580.2 414.5M552.8 421.3A20.25 20.25 0 0 1 553.2 420.6M553.6 420.1A20.25 20.25 0 0 1 558.1 415.6M558.6 415.2A20.25 20.25 0 0 1 559.3 414.8M569.9 410.3A21.75 21.75 0 0 1 570.8 410.3M573.0 410.5A21.75 21.75 0 0 1 578.9 412.2M552.4 419.3A21.75 21.75 0 0 1 552.9 418.6M553.3 418.1A21.75 21.75 0 0 1 561.2 412.1M563.2 411.3A21.75 21.75 0 0 1 564.1 411.1M566.2 410.6A21.75 21.75 0 0 1 567.0 410.5M567.7 410.4A21.75 21.75 0 0 1 568.5 410.3M569.2 410.3A21.75 21.75 0 0 1 570.1 410.3M569.9 408.8A23.25 23.25 0 0 1 570.9 408.8M573.2 409.0A23.25 23.25 0 0 1 580.2 411.1M551.2 418.4A23.25 23.25 0 0 1 559.1 411.4M560.5 410.8A23.25 23.25 0 0 1 562.1 410.1M563.5 409.7A23.25 23.25 0 0 1 565.2 409.2M565.9 409.1A23.25 23.25 0 0 1 566.8 409.0M567.5 408.9A23.25 23.25 0 0 1 568.4 408.8M569.1 408.8A23.25 23.25 0 0 1 570.1 408.8M575.1 407.8A24.75 24.75 0 0 1 581.7 410.2M551.0 416.1A24.75 24.75 0 0 1 555.5 411.9M556.1 411.5A24.75 24.75 0 0 1 557.7 410.5M558.3 410.2A24.75 24.75 0 0 1 559.2 409.7M575.4 406.3A26.25 26.25 0 0 1 576.4 406.5M577.2 406.7A26.25 26.25 0 0 1 584.0 409.8M547.7 418.1A26.25 26.25 0 0 1 548.3 417.3M548.7 416.6A26.25 26.25 0 0 1 553.9 411.3M556.0 409.8A26.25 26.25 0 0 1 556.9 409.2M569.9 404.3A27.75 27.75 0 0 1 571.0 404.3M572.8 404.4A27.75 27.75 0 0 1 575.8 404.9M553.6 409.6A27.75 27.75 0 0 1 554.5 409.0M555.2 408.5A27.75 27.75 0 0 1 570.1 404.3M569.9 402.8A29.25 29.25 0 0 1 571.1 402.8M573.0 402.9A29.25 29.25 0 0 1 582.0 405.3M548.2 412.5A29.25 29.25 0 0 1 557.2 405.7M558.0 405.3A29.25 29.25 0 0 1 559.1 404.9M559.9 404.5A29.25 29.25 0 0 1 566.0 403.0M566.9 402.9A29.25 29.25 0 0 1 568.0 402.8M568.9 402.8A29.25 29.25 0 0 1 570.1 402.8M574.2 401.5A30.75 30.75 0 0 1 575.4 401.7M576.3 401.9A30.75 30.75 0 0 1 586.4 406.0M554.6 405.4A30.75 30.75 0 0 1 555.6 404.8M569.9 399.8A32.25 32.25 0 0 1 571.2 399.8M573.3 399.9A32.25 32.25 0 0 1 582.2 402.1M583.0 402.5A32.25 32.25 0 0 1 584.2 403.1M551.9 405.3A32.25 32.25 0 0 1 570.1 399.8M569.9 398.3A33.75 33.75 0 0 1 571.3 398.3M573.4 398.4A33.75 33.75 0 0 1 578.3 399.3M579.2 399.5A33.75 33.75 0 0 1 580.5 399.9M551.1 404.1A33.75 33.75 0 0 1 570.1 398.3M576.0 397.3A35.25 35.25 0 0 1 579.8 398.1M580.8 398.4A35.25 35.25 0 0 1 586.6 400.9M540.7 412.4A35.25 35.25 0 0 1 542.3 410.2M549.2 403.5A35.25 35.25 0 0 1 551.4 402.1M556.8 396.1A38.25 38.25 0 0 1 558.3 395.6M569.9 392.3A39.75 39.75 0 0 1 571.5 392.3M557.6 394.2A39.75 39.75 0 0 1 559.1 393.8M561.6 393.1A39.75 39.75 0 0 1 563.2 392.8M564.4 392.7A39.75 39.75 0 0 1 565.9 392.5"/>
<path stroke="#ffdf00" d="M572.1 438.4A6.75 6.75 0 0 1 571.8 438.5M571.4 438.6A6.75 6.75 0 0 1 570.5 438.7M569.8 438.7A6.75 6.75 0 0 1 569.5 438.7M573.1 439.6A8.25 8.25 0 0 1 572.8 439.8M572.0 440.0A8.25 8.25 0 0 1 571.1 440.2M570.9 440.2A8.25 8.25 0 0 1 570.6 440.2M569.7 440.2A8.25 8.25 0 0 1 569.1 440.2M575.2 440.3A9.75 9.75 0 0 1 574.6 440.6M574.3 440.8A9.75 9.75 0 0 1 573.9 440.9M573.4 441.2A9.75 9.75 0 0 1 572.0 441.5M571.7 441.6A9.75 9.75 0 0 1 569.6 441.7M569.3 441.7A9.75 9.75 0 0 1 569.0 441.7M577.3 440.6A11.25 11.25 0 0 1 566.9 442.8M576.4 443.0A12.75 12.75 0 0 1 575.6 443.5M575.2 443.6A12.75 12.75 0 0 1 569.5 444.7M568.7 444.7A12.75 12.75 0 0 1 566.9 444.4M578.0 443.8A14.25 14.25 0 0 1 567.5 446.0M582.4 441.7A15.75 15.75 0 0 1 582.0 442.2M581.7 442.5A15.75 15.75 0 0 1 576.4 446.4M575.4 446.8A15.75 15.75 0 0 1 574.8 447.0M574.4 447.1A15.75 15.75 0 0 1 573.8 447.3M573.3 447.4A15.75 15.75 0 0 1 572.2 447.6M570.6 447.7A15.75 15.75 0 0 1 563.6 446.4M562.6 445.9A15.75 15.75 0 0 1 562.1 445.6M580.7 445.6A17.25 17.25 0 0 1 578.6 447.0M578.1 447.2A17.25 17.25 0 0 1 565.2 448.6M581.6 446.7A18.75 18.75 0 0 1 580.4 447.6M580.0 447.9A18.75 18.75 0 0 1 567.3 450.6M566.8 450.5A18.75 18.75 0 0 1 566.1 450.3M565.5 450.2A18.75 18.75 0 0 1 564.8 450.0M581.9 448.4A20.25 20.25 0 0 1 563.7 451.2M584.0 448.6A21.75 21.75 0 0 1 583.3 449.2M582.8 449.6A21.75 21.75 0 0 1 565.4 453.3M580.2 452.9A23.25 23.25 0 0 1 579.4 453.3M578.8 453.5A23.25 23.25 0 0 1 576.4 454.4M574.1 454.9A23.25 23.25 0 0 1 573.2 455.0M572.5 455.1A23.25 23.25 0 0 1 571.6 455.2M570.1 455.2A23.25 23.25 0 0 1 569.1 455.2M586.0 450.9A24.75 24.75 0 0 1 563.1 455.8M561.6 455.3A24.75 24.75 0 0 1 560.7 454.9M585.5 453.2A26.25 26.25 0 0 1 584.6 453.8M584.0 454.2A26.25 26.25 0 0 1 580.6 456.0M579.9 456.3A26.25 26.25 0 0 1 569.9 458.2M569.2 458.2A26.25 26.25 0 0 1 568.1 458.2M566.4 458.0A26.25 26.25 0 0 1 565.4 457.8M590.0 451.2A27.75 27.75 0 0 1 589.2 452.0M588.6 452.6A27.75 27.75 0 0 1 564.2 459.1M562.4 458.7A27.75 27.75 0 0 1 561.4 458.4M589.6 453.7A29.25 29.25 0 0 1 588.7 454.5M588.1 455.0A29.25 29.25 0 0 1 562.8 460.4M562.0 460.1A29.25 29.25 0 0 1 560.9 459.8M559.1 459.1A29.25 29.25 0 0 1 558.0 458.7M591.4 454.1A30.75 30.75 0 0 1 590.5 454.9M585.4 458.6A30.75 30.75 0 0 1 573.1 462.6M570.1 462.7A30.75 30.75 0 0 1 561.4 461.5M560.6 461.3A30.75 30.75 0 0 1 559.4 460.9M586.2 459.9A32.25 32.25 0 0 1 573.3 464.1M596.5 457.5A36.75 36.75 0 0 1 591.5 461.8M590.6 462.4A36.75 36.75 0 0 1 589.4 463.2M566.3 468.6A36.75 36.75 0 0 1 564.8 468.4M563.7 468.2A36.75 36.75 0 0 1 550.4 463.1M597.6 458.5A38.25 38.25 0 0 1 591.3 463.8M570.1 470.2A38.25 38.25 0 0 1 568.6 470.2M564.8 469.9A38.25 38.25 0 0 1 549.6 464.4M552.7 467.8A39.75 39.75 0 0 1 544.4 462.4M550.7 468.5A41.25 41.25 0 0 1 549.3 467.7M548.2 467.0A41.25 41.25 0 0 1 541.3 461.6M554.1 471.7A42.75 42.75 0 0 1 549.8 469.7M613.0 447.5A45.75 45.75 0 0 1 609.6 455.0M614.4 448.0A47.25 47.25 0 0 1 611.7 454.3"/>
<path stroke="#7e7eff" d="M567.0 425.9A6.75 6.75 0 0 1 567.3 425.8M567.5 425.7A6.75 6.75 0 0 1 567.7 425.7M568.1 425.5A6.75 6.75 0 0 1 568.4 425.4M568.6 425.4A6.75 6.75 0 0 1 569.1 425.3M570.0 423.8A8.25 8.25 0 0 1 570.3 423.8M568.0 424.0A8.25 8.25 0 0 1 568.3 423.9M568.8 423.8A8.25 8.25 0 0 1 569.2 423.8M570.0 422.3A9.75 9.75 0 0 1 570.4 422.3M571.3 422.3A9.75 9.75 0 0 1 571.7 422.4M572.3 422.5A9.75 9.75 0 0 1 572.7 422.6M564.2 424.1A9.75 9.75 0 0 1 564.6 423.9M565.4 423.4A9.75 9.75 0 0 1 570.0 422.3M570.0 420.8A11.25 11.25 0 0 1 570.4 420.8M571.1 420.8A11.25 11.25 0 0 1 572.8 421.1M563.1 423.2A11.25 11.25 0 0 1 563.7 422.7M564.0 422.5A11.25 11.25 0 0 1 570.0 420.8M564.8 420.4A12.75 12.75 0 0 1 565.3 420.2M566.5 419.8A12.75 12.75 0 0 1 567.4 419.5M568.2 419.4A12.75 12.75 0 0 1 568.7 419.3M564.2 419.0A14.25 14.25 0 0 1 564.7 418.8M565.1 418.6A14.25 14.25 0 0 1 565.6 418.4M566.0 418.3A14.25 14.25 0 0 1 566.6 418.2M567.0 418.1A14.25 14.25 0 0 1 567.6 418.0M568.0 417.9A14.25 14.25 0 0 1 570.0 417.8M564.1 417.4A15.75 15.75 0 0 1 564.7 417.2M565.6 416.9A15.75 15.75 0 0 1 567.8 416.4M568.9 416.3A15.75 15.75 0 0 1 569.5 416.3M565.2 415.4A17.25 17.25 0 0 1 566.5 415.1M568.2 414.8A17.25 17.25 0 0 1 568.8 414.8M569.4 414.8A17.25 17.25 0 0 1 570.0 414.8M569.9 411.8A20.25 20.25 0 0 1 570.8 411.8M572.1 411.9A20.25 20.25 0 0 1 573.6 412.1M558.1 415.6A20.25 20.25 0 0 1 558.7 415.2M559.2 414.9A20.25 20.25 0 0 1 570.1 411.8M572.2 410.4A21.75 21.75 0 0 1 573.1 410.5M561.1 412.2A21.75 21.75 0 0 1 563.3 411.3M564.0 411.1A21.75 21.75 0 0 1 566.3 410.6M566.9 410.5A21.75 21.75 0 0 1 567.8 410.4M568.4 410.3A21.75 21.75 0 0 1 569.3 410.3M572.4 408.9A23.25 23.25 0 0 1 573.3 409.0M559.0 411.5A23.25 23.25 0 0 1 560.6 410.7M562.0 410.2A23.25 23.25 0 0 1 563.6 409.6M565.1 409.3A23.25 23.25 0 0 1 566.0 409.1M566.7 409.0A23.25 23.25 0 0 1 567.6 408.9M568.3 408.8A23.25 23.25 0 0 1 569.2 408.8M569.9 407.3A24.75 24.75 0 0 1 570.9 407.3M572.5 407.4A24.75 24.75 0 0 1 575.2 407.8M555.4 412.0A24.75 24.75 0 0 1 556.2 411.4M557.6 410.6A24.75 24.75 0 0 1 558.4 410.1M559.1 409.8A24.75 24.75 0 0 1 570.1 407.3M569.9 405.8A26.25 26.25 0 0 1 571.0 405.8M572.7 405.9A26.25 26.25 0 0 1 575.5 406.3M576.3 406.5A26.25 26.25 0 0 1 577.3 406.8M553.8 411.4A26.25 26.25 0 0 1 556.1 409.7M556.8 409.3A26.25 26.25 0 0 1 570.1 405.8M557.1 405.7A29.25 29.25 0 0 1 558.2 405.2M559.0 404.9A29.25 29.25 0 0 1 560.1 404.5M565.9 403.0A29.25 29.25 0 0 1 567.0 402.9M567.9 402.8A29.25 29.25 0 0 1 569.1 402.8M569.9 401.3A30.75 30.75 0 0 1 571.2 401.3M573.1 401.4A30.75 30.75 0 0 1 574.4 401.6M575.3 401.7A30.75 30.75 0 0 1 576.5 401.9M552.7 406.6A30.75 30.75 0 0 1 554.7 405.3M555.5 404.9A30.75 30.75 0 0 1 570.1 401.3M569.9 396.8A35.25 35.25 0 0 1 571.3 396.8M573.6 396.9A35.25 35.25 0 0 1 576.2 397.3M579.6 398.1A35.25 35.25 0 0 1 581.0 398.5M551.2 402.2A35.25 35.25 0 0 1 570.1 396.8"/>
<path stroke="#ffcf00" d="M576.4 446.4A15.75 15.75 0 0 1 575.3 446.8M574.9 447.0A15.75 15.75 0 0 1 574.3 447.2M573.9 447.3A15.75 15.75 0 0 1 573.2 447.4M572.2 447.6A15.75 15.75 0 0 1 570.5 447.7M591.7 461.7A36.75 36.75 0 0 1 590.5 462.5M589.6 463.1A36.75 36.75 0 0 1 566.1 468.5M565.0 468.4A36.75 36.75 0 0 1 563.5 468.2M591.5 463.7A38.25 38.25 0 0 1 569.9 470.2M568.8 470.2A38.25 38.25 0 0 1 564.6 469.9M598.7 459.5A39.75 39.75 0 0 1 588.6 467.1M587.5 467.7A39.75 39.75 0 0 1 583.5 469.4M572.9 471.6A39.75 39.75 0 0 1 571.3 471.7M567.3 471.7A39.75 39.75 0 0 1 552.5 467.7M599.7 460.6A41.25 41.25 0 0 1 593.0 466.3M556.0 470.8A41.25 41.25 0 0 1 550.5 468.4M549.5 467.8A41.25 41.25 0 0 1 548.0 466.9M600.8 461.6A42.75 42.75 0 0 1 587.3 471.1M570.1 474.7A42.75 42.75 0 0 1 563.9 474.3M562.7 474.1A42.75 42.75 0 0 1 553.9 471.6M600.8 463.8A44.25 44.25 0 0 1 599.5 465.0M609.7 454.8A45.75 45.75 0 0 1 603.9 462.7M611.8 454.1A47.25 47.25 0 0 1 605.0 463.7"/>
<path stroke="#ffbf00" d="M588.8 467.0A39.75 39.75 0 0 1 587.3 467.8M583.7 469.3A39.75 39.75 0 0 1 572.7 471.7M571.5 471.7A39.75 39.75 0 0 1 567.1 471.6M593.2 466.1A41.25 41.25 0 0 1 579.9 472.1M587.5 471.0A42.75 42.75 0 0 1 569.9 474.7M564.2 474.3A42.75 42.75 0 0 1 562.5 474.1M601.9 462.7A44.25 44.25 0 0 1 600.7 463.9M599.7 464.8A44.25 44.25 0 0 1 586.5 473.1M573.2 476.1A44.25 44.25 0 0 1 569.9 476.2M565.5 476.0A44.25 44.25 0 0 1 557.7 474.5M604.1 462.5A45.75 45.75 0 0 1 595.5 470.0M605.2 463.5A47.25 47.25 0 0 1 600.3 468.3M599.2 469.2A47.25 47.25 0 0 1 597.7 470.3M596.5 471.1A47.25 47.25 0 0 1 594.9 472.1"/>
<path stroke="#ffaf00" d="M586.7 473.0A44.25 44.25 0 0 1 573.0 476.2M570.1 476.2A44.25 44.25 0 0 1 565.3 476.0M595.7 469.9A45.75 45.75 0 0 1 585.5 475.0M584.3 475.5A45.75 45.75 0 0 1 582.5 476.0M578.1 477.0A45.75 45.75 0 0 1 576.2 477.3M568.5 477.7A45.75 45.75 0 0 1 566.7 477.6M597.9 470.2A47.25 47.25 0 0 1 596.3 471.2M595.1 472.0A47.25 47.25 0 0 1 592.1 473.8"/>
</g>
<g shape-rendering="crispEdges">
<rect x="494.3" y="218.6" width="15.0" height="5.8" fill="#00009b" transform="rotate(-18.0 501.8 221.5)"/>
<rect x="416.5" y="287.8" width="15.0" height="6.4" fill="#0000ee" transform="rotate(-46.0 424.0 291.0)"/>
<rect x="344.0" y="366.1" width="16.0" height="5.8" fill="#0000dd" transform="rotate(-73.9 352.0 369.0)"/>
<rect x="325.9" y="395.4" width="17.0" height="5.2" fill="#0000cc" transform="rotate(-81.8 334.4 398.0)"/>
<rect x="408.1" y="395.0" width="11.5" height="6.0" fill="#6565ff" transform="rotate(-77.7 413.8 398.0)"/>
<rect x="747.5" y="249.8" width="17.0" height="5.8" fill="#0000c6" transform="rotate(46.1 756.0 252.7)"/>
<rect x="719.0" y="316.1" width="12.0" height="6.5" fill="#0000aa" transform="rotate(54.0 725.0 319.3)"/>
<rect x="660.5" y="323.1" width="11.0" height="5.8" fill="#b0b0ff" transform="rotate(42.2 666.0 326.0)"/>
<rect x="786.5" y="364.1" width="17.0" height="6.5" fill="#ff4400" transform="rotate(74.0 795.0 367.3)"/>
<rect x="874.7" y="384.3" width="22.0" height="6.0" fill="#8a8aff" transform="rotate(81.9 885.7 387.3)"/>
<rect x="279.6" y="447.5" width="20.0" height="6.0" fill="#7171ff" transform="rotate(266.2 289.6 450.5)"/>
<rect x="311.2" y="585.2" width="20.0" height="6.0" fill="#a3a3ff" transform="rotate(237.9 321.2 588.2)"/>
<rect x="490.7" y="650.4" width="16.0" height="7.0" fill="#d9d9ff" transform="rotate(197.8 498.7 653.9)"/>
<rect x="399.7" y="704.3" width="23.0" height="6.0" fill="#b80000" transform="rotate(210.0 411.2 707.3)"/>
<rect x="550.0" y="716.6" width="19.0" height="6.0" fill="#7e7eff" transform="rotate(182.1 559.5 719.6)"/>
<rect x="553.5" y="315.2" width="8.0" height="1.5" fill="#ffaa00" transform="rotate(-6.2 557.5 316.0)"/>
<rect x="539.0" y="343.9" width="6.0" height="1.5" fill="#ffff88" transform="rotate(-17.8 542.0 344.7)"/>
<rect x="483.4" y="370.2" width="6.5" height="1.6" fill="#ff4400" transform="rotate(-53.8 486.7 371.0)"/>
<rect x="470.0" y="379.7" width="6.0" height="1.6" fill="#0000dd" transform="rotate(-62.0 473.0 380.5)"/>
<rect x="487.2" y="400.9" width="5.5" height="2.2" fill="#0000ee" transform="rotate(-69.4 490.0 402.0)"/>
<rect x="636.7" y="342.0" width="8.0" height="2.0" fill="#4b4bff" transform="rotate(38.5 640.7 343.0)"/>
<rect x="583.7" y="369.4" width="4.0" height="2.5" fill="#0000bb" transform="rotate(14.4 585.7 370.7)"/>
<rect x="626.0" y="426.0" width="6.0" height="2.0" fill="#ffaa00" transform="rotate(85.2 629.0 427.0)"/>
<rect x="675.7" y="454.2" width="8.0" height="1.5" fill="#9797ff" transform="rotate(101.8 679.7 455.0)"/>
<rect x="466.5" y="444.2" width="7.0" height="1.5" fill="#9797ff" transform="rotate(262.6 470.0 445.0)"/>
<rect x="507.5" y="517.5" width="7.0" height="1.5" fill="#a3a3ff" transform="rotate(214.4 511.0 518.3)"/>
<rect x="543.8" y="504.9" width="5.0" height="1.5" fill="#ffdd00" transform="rotate(197.8 546.3 505.6)"/>
<rect x="549.8" y="528.2" width="7.0" height="1.5" fill="#ffdd00" transform="rotate(189.8 553.3 529.0)"/>
<rect x="545.0" y="547.6" width="8.0" height="2.2" fill="#ffee00" transform="rotate(190.2 549.0 548.7)"/>
<rect x="590.5" y="523.5" width="13.0" height="2.0" fill="#ff7700" transform="rotate(163.7 597.0 524.5)"/>
<rect x="588.6" y="480.1" width="3.5" height="1.8" fill="#ff4400" transform="rotate(157.4 590.4 481.0)"/>
<rect x="581.0" y="383.1" width="3.0" height="1.5" fill="#ffee00" transform="rotate(14.5 582.5 383.8)"/>
<rect x="589.3" y="382.1" width="3.0" height="1.5" fill="#ffee00" transform="rotate(22.9 590.8 382.8)"/>
<rect x="605.0" y="395.9" width="3.5" height="1.5" fill="#ffee00" transform="rotate(46.1 606.7 396.7)"/>
<rect x="615.2" y="414.2" width="3.0" height="1.5" fill="#ffdd00" transform="rotate(70.0 616.7 415.0)"/>
<rect x="556.8" y="384.6" width="3.0" height="1.5" fill="#ffee00" transform="rotate(-14.1 558.3 385.3)"/>
<rect x="527.0" y="436.5" width="3.0" height="2.0" fill="#ffee00" transform="rotate(262.5 528.5 437.5)"/>
</g>
<g fill="none" stroke="#bfbfbf" shape-rendering="crispEdges">
<circle cx="570.5" cy="432.2" r="60.57" stroke-width="2.3"/>
<circle cx="570.5" cy="432.2" r="121.13" stroke-width="2.3"/>
<circle cx="570.5" cy="432.2" r="181.70" stroke-width="2.3"/>
<circle cx="570.5" cy="432.2" r="242.27" stroke-width="2.3"/>
<circle cx="570.5" cy="432.2" r="302.83" stroke-width="2.3"/>
<circle cx="570.5" cy="432.2" r="363.40" stroke-width="2.3"/>
<line x1="570.0" y1="432.0" x2="570.0" y2="68.6" stroke-width="2.0"/>
<line x1="570.0" y1="432.0" x2="751.7" y2="117.3" stroke-width="1.0"/>
<line x1="570.0" y1="432.0" x2="884.7" y2="250.3" stroke-width="1.7"/>
<line x1="570.0" y1="432.0" x2="933.4" y2="432.0" stroke-width="2.0"/>
<line x1="570.0" y1="432.0" x2="884.7" y2="613.7" stroke-width="1.7"/>
<line x1="570.0" y1="432.0" x2="751.7" y2="746.7" stroke-width="1.7"/>
<line x1="570.0" y1="432.0" x2="570.0" y2="795.4" stroke-width="2.0"/>
<line x1="570.0" y1="432.0" x2="388.3" y2="746.7" stroke-width="1.7"/>
<line x1="570.0" y1="432.0" x2="255.3" y2="613.7" stroke-width="1.7"/>
<line x1="570.0" y1="432.0" x2="206.6" y2="432.0" stroke-width="2.0"/>
<line x1="570.0" y1="432.0" x2="255.3" y2="250.3" stroke-width="1.7"/>
<line x1="570.0" y1="432.0" x2="388.3" y2="117.3" stroke-width="1.3"/>
</g>
<g shape-rendering="crispEdges">
<rect x="966.5" y="792.32" width="42.0" height="11.98" fill="#000080"/>
<rect x="966.5" y="780.83" width="42.0" height="11.98" fill="#000087"/>
<rect x="966.5" y="769.35" width="42.0" height="11.98" fill="#00008f"/>
<rect x="966.5" y="757.86" width="42.0" height="11.98" fill="#000097"/>
<rect x="966.5" y="746.38" width="42.0" height="11.98" fill="#00009f"/>
<rect x="966.5" y="734.89" width="42.0" height="11.98" fill="#0000a7"/>
<rect x="966.5" y="723.41" width="42.0" height="11.98" fill="#0000af"/>
<rect x="966.5" y="711.92" width="42.0" height="11.98" fill="#0000b7"/>
<rect x="966.5" y="700.44" width="42.0" height="11.98" fill="#0000bf"/>
<rect x="966.5" y="688.96" width="42.0" height="11.98" fill="#0000c7"/>
<rect x="966.5" y="677.47" width="42.0" height="11.98" fill="#0000cf"/>
<rect x="966.5" y="665.99" width="42.0" height="11.98" fill="#0000d7"/>
<rect x="966.5" y="654.50" width="42.0" height="11.98" fill="#0000df"/>
<rect x="966.5" y="643.02" width="42.0" height="11.98" fill="#0000e7"/>
<rect x="966.5" y="631.53" width="42.0" height="11.98" fill="#0000ef"/>
<rect x="966.5" y="620.05" width="42.0" height="11.98" fill="#0000f7"/>
<rect x="966.5" y="608.57" width="42.0" height="11.98" fill="#0000ff"/>
<rect x="966.5" y="597.08" width="42.0" height="11.98" fill="#0d0dff"/>
<rect x="966.5" y="585.60" width="42.0" height="11.98" fill="#1919ff"/>
<rect x="966.5" y="574.11" width="42.0" height="11.98" fill="#2626ff"/>
<rect x="966.5" y="562.63" width="42.0" height="11.98" fill="#3232ff"/>
<rect x="966.5" y="551.14" width="42.0" height="11.98" fill="#3f3fff"/>
<rect x="966.5" y="539.66" width="42.0" height="11.98" fill="#4b4bff"/>
<rect x="966.5" y="528.17" width="42.0" height="11.98" fill="#5858ff"/>
<rect x="966.5" y="516.69" width="42.0" height="11.98" fill="#6565ff"/>
<rect x="966.5" y="505.21" width="42.0" height="11.98" fill="#7171ff"/>
<rect x="966.5" y="493.72" width="42.0" height="11.98" fill="#7e7eff"/>
<rect x="966.5" y="482.24" width="42.0" height="11.98" fill="#8a8aff"/>
<rect x="966.5" y="470.75" width="42.0" height="11.98" fill="#9797ff"/>
<rect x="966.5" y="459.27" width="42.0" height="11.98" fill="#a3a3ff"/>
<rect x="966.5" y="447.78" width="42.0" height="11.98" fill="#b0b0ff"/>
<rect x="966.5" y="436.30" width="42.0" height="11.98" fill="#d9d9ff"/>
<rect x="966.5" y="424.82" width="42.0" height="11.98" fill="#ffffff"/>
<rect x="966.5" y="413.33" width="42.0" height="11.98" fill="#ffff80"/>
<rect x="966.5" y="401.85" width="42.0" height="11.98" fill="#ffff00"/>
<rect x="966.5" y="390.36" width="42.0" height="11.98" fill="#ffef00"/>
<rect x="966.5" y="378.88" width="42.0" height="11.98" fill="#ffdf00"/>
<rect x="966.5" y="367.39" width="42.0" height="11.98" fill="#ffcf00"/>
<rect x="966.5" y="355.91" width="42.0" height="11.98" fill="#ffbf00"/>
<rect x="966.5" y="344.42" width="42.0" height="11.98" fill="#ffaf00"/>
<rect x="966.5" y="332.94" width="42.0" height="11.98" fill="#ff9f00"/>
<rect x="966.5" y="321.46" width="42.0" height="11.98" fill="#ff8f00"/>
<rect x="966.5" y="309.97" width="42.0" height="11.98" fill="#ff8000"/>
<rect x="966.5" y="298.49" width="42.0" height="11.98" fill="#ff7000"/>
<rect x="966.5" y="287.00" width="42.0" height="11.98" fill="#ff6000"/>
<rect x="966.5" y="275.52" width="42.0" height="11.98" fill="#ff5000"/>
<rect x="966.5" y="264.03" width="42.0" height="11.98" fill="#ff4000"/>
<rect x="966.5" y="252.55" width="42.0" height="11.98" fill="#ff3000"/>
<rect x="966.5" y="241.07" width="42.0" height="11.98" fill="#ff2000"/>
<rect x="966.5" y="229.58" width="42.0" height="11.98" fill="#ff1000"/>
<rect x="966.5" y="218.10" width="42.0" height="11.98" fill="#ff0000"/>
<rect x="966.5" y="206.61" width="42.0" height="11.98" fill="#f50000"/>
<rect x="966.5" y="195.13" width="42.0" height="11.98" fill="#eb0000"/>
<rect x="966.5" y="183.64" width="42.0" height="11.98" fill="#e20000"/>
<rect x="966.5" y="172.16" width="42.0" height="11.98" fill="#d80000"/>
<rect x="966.5" y="160.67" width="42.0" height="11.98" fill="#ce0000"/>
<rect x="966.5" y="149.19" width="42.0" height="11.98" fill="#c40000"/>
<rect x="966.5" y="137.71" width="42.0" height="11.98" fill="#ba0000"/>
<rect x="966.5" y="126.22" width="42.0" height="11.98" fill="#b10000"/>
<rect x="966.5" y="114.74" width="42.0" height="11.98" fill="#a70000"/>
<rect x="966.5" y="103.25" width="42.0" height="11.98" fill="#9d0000"/>
<rect x="966.5" y="91.77" width="42.0" height="11.98" fill="#930000"/>
<rect x="966.5" y="80.28" width="42.0" height="11.98" fill="#890000"/>
<rect x="966.5" y="68.80" width="42.0" height="11.98" fill="#800000"/>
<rect x="966.5" y="69.5" width="42.0" height="735.0" fill="none" stroke="#000"/>
<path d="M966.5 191.5h7M1009.0 191.5h-9M966.5 314.5h7M1009.0 314.5h-9M966.5 436.5h7M1009.0 436.5h-9M966.5 559.5h7M1009.0 559.5h-9M966.5 681.5h7M1009.0 681.5h-9" stroke="#000" fill="none"/>
</g>
<g filter="url(#al)">
<g font-family='"Liberation Sans", sans-serif' font-size="22.0" fill="#000">
<text transform="translate(194.3 803.2) scale(1 1.060) rotate(0.03)" text-anchor="end">-6000</text>
<text transform="translate(194.3 682.0) scale(1 1.060) rotate(0.03)" text-anchor="end">-4000</text>
<text transform="translate(194.3 560.8) scale(1 1.060) rotate(0.03)" text-anchor="end">-2000</text>
<text transform="translate(194.3 439.6) scale(1 1.060) rotate(0.03)" text-anchor="end">0</text>
<text transform="translate(194.3 318.4) scale(1 1.060) rotate(0.03)" text-anchor="end">2000</text>
<text transform="translate(194.3 197.2) scale(1 1.060) rotate(0.03)" text-anchor="end">4000</text>
<text transform="translate(194.3 76.0) scale(1 1.060) rotate(0.03)" text-anchor="end">6000</text>
<text transform="translate(202.9 828.2) scale(1 1.060) rotate(0.03)" text-anchor="middle">-6000</text>
<text transform="translate(323.9 828.2) scale(1 1.060) rotate(0.03)" text-anchor="middle">-4000</text>
<text transform="translate(445.9 828.2) scale(1 1.060) rotate(0.03)" text-anchor="middle">-2000</text>
<text transform="translate(570.5 828.2) scale(1 1.060) rotate(0.03)" text-anchor="middle">0</text>
<text transform="translate(691.5 828.2) scale(1 1.060) rotate(0.03)" text-anchor="middle">2000</text>
<text transform="translate(813.5 828.2) scale(1 1.060) rotate(0.03)" text-anchor="middle">4000</text>
<text transform="translate(934.5 828.2) scale(1 1.060) rotate(0.03)" text-anchor="middle">6000</text>
<text transform="translate(1014.2 77.2) scale(1 1.060) rotate(0.03)">15</text>
<text transform="translate(1014.2 199.2) scale(1 1.060) rotate(0.03)">10</text>
<text transform="translate(1014.2 322.2) scale(1 1.060) rotate(0.03)">5</text>
<text transform="translate(1014.2 444.2) scale(1 1.060) rotate(0.03)">0</text>
<text transform="translate(1013.2 567.2) scale(1 1.060) rotate(0.03)">-5</text>
<text transform="translate(1013.2 689.2) scale(1 1.060) rotate(0.03)">-10</text>
<text transform="translate(1013.2 812.2) scale(1 1.060) rotate(0.03)">-15</text>
<text transform="translate(539.4 861.8) scale(1 1.060) rotate(0.03)">m.s<tspan font-size="16.6" dy="-9.8" dx="5.6">1</tspan></text>
</g>
</g>
<g filter="url(#al2)">
<text x="565.4" y="50.7" text-anchor="middle" font-family='"Liberation Sans", sans-serif' font-weight="bold" font-size="25.2" fill="#000">WLS200S-16_2013_06_10__01_08_16_PPI_Vr (m/s)</text>
</g>
<rect x="575" y="846" width="5" height="2" fill="#000" shape-rendering="crispEdges"/>
<path shape-rendering="crispEdges" fill="#000" d="M412 53h15v3h-15zM482 53h15v3h-15zM524 53h15v3h-15zM566 53h15v3h-15zM580 53h15v3h-15zM622 53h15v3h-15zM664 53h15v3h-15zM706 53h15v3h-15zM761 53h15v3h-15z"/>
</svg>
</body></html>
